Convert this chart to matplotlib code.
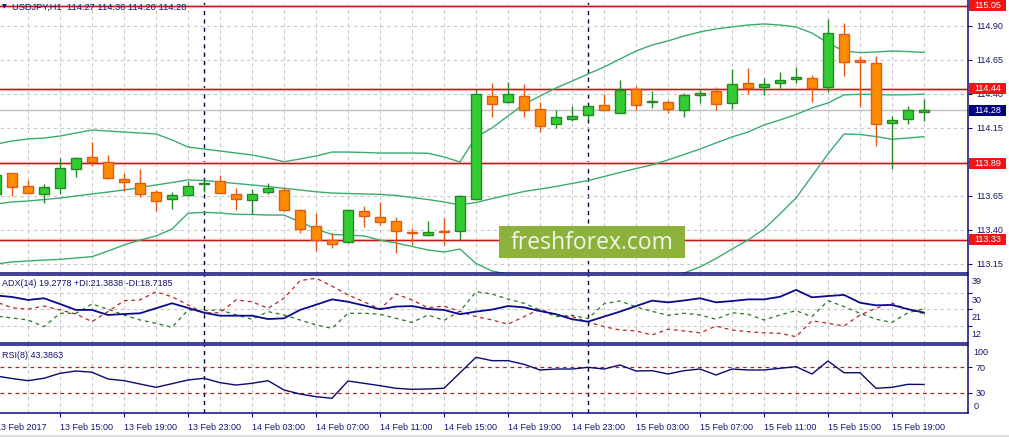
"""USDJPY H1 chart (MT4 style): candles + Bollinger bands, ADX(14) and RSI(8) panes."""
import numpy as np
import matplotlib
matplotlib.use("Agg")
import matplotlib.pyplot as plt
import matplotlib.transforms as mtrans
from matplotlib.patches import Rectangle
from matplotlib.lines import Line2D

plt.rcParams["font.family"] = ["Liberation Sans", "DejaVu Sans"]
plt.rcParams["axes.unicode_minus"] = False

# ---- data ----
open_ = [113.665, 113.817, 113.723, 113.662, 113.707, 113.846, 113.934, 113.902, 113.773, 113.743,
         113.679, 113.626, 113.659, 113.736, 113.758, 113.662, 113.623, 113.677, 113.692, 113.547,
         113.427, 113.324, 113.314, 113.540, 113.493, 113.466, 113.385, 113.361, 113.395, 113.390,
         113.626, 114.387, 114.339, 114.387, 114.287, 114.177, 114.214, 114.243, 114.317, 114.262,
         114.434, 114.341, 114.341, 114.282, 114.395, 114.422, 114.336, 114.478, 114.454, 114.478,
         114.508, 114.515, 114.454, 114.839, 114.650, 114.626, 114.184, 114.216, 114.27]
high = [113.820, 113.820, 113.768, 113.738, 113.927, 113.939, 114.049, 113.951, 113.821, 113.846,
        113.694, 113.679, 113.760, 113.773, 113.802, 113.707, 113.704, 113.743, 113.718, 113.554,
        113.523, 113.376, 113.554, 113.576, 113.608, 113.493, 113.412, 113.468, 113.486, 113.657,
        114.434, 114.483, 114.490, 114.473, 114.343, 114.282, 114.312, 114.310, 114.400, 114.503,
        114.459, 114.424, 114.356, 114.405, 114.429, 114.449, 114.584, 114.593, 114.515, 114.564,
        114.596, 114.540, 114.949, 114.924, 114.679, 114.679, 114.238, 114.312, 114.36]
low = [113.650, 113.652, 113.662, 113.601, 113.662, 113.787, 113.870, 113.773, 113.689, 113.645,
       113.542, 113.552, 113.655, 113.681, 113.670, 113.547, 113.517, 113.662, 113.542, 113.376,
       113.248, 113.265, 113.302, 113.424, 113.437, 113.233, 113.290, 113.356, 113.290, 113.326,
       113.620, 114.233, 114.335, 114.229, 114.123, 114.148, 114.201, 114.209, 114.280, 114.258,
       114.282, 114.295, 114.262, 114.229, 114.336, 114.282, 114.292, 114.398, 114.392, 114.446,
       114.483, 114.343, 114.417, 114.532, 114.306, 114.020, 113.846, 114.177, 114.20]
close = [113.804, 113.714, 113.674, 113.714, 113.854, 113.927, 113.898, 113.784, 113.755, 113.662,
         113.611, 113.655, 113.723, 113.748, 113.674, 113.630, 113.662, 113.707, 113.547, 113.409,
         113.326, 113.299, 113.547, 113.503, 113.456, 113.392, 113.376, 113.383, 113.383, 113.650,
         114.398, 114.324, 114.398, 114.280, 114.167, 114.229, 114.238, 114.309, 114.280, 114.429,
         114.321, 114.350, 114.287, 114.390, 114.405, 114.324, 114.471, 114.446, 114.471, 114.503,
         114.527, 114.446, 114.846, 114.637, 114.637, 114.177, 114.209, 114.282, 114.28]

bb_upper = [114.032, 114.054, 114.069, 114.076, 114.091, 114.113, 114.135, 114.128, 114.120, 114.113,
            114.106, 114.062, 114.010, 113.995, 113.981, 113.966, 113.951, 113.929, 113.902, 113.922,
            113.944, 113.973, 113.973, 113.970, 113.966, 113.966, 113.966, 113.964, 113.937, 113.900,
            114.084, 114.150, 114.238, 114.326, 114.385, 114.444, 114.495, 114.547, 114.598, 114.657,
            114.716, 114.760, 114.790, 114.826, 114.856, 114.878, 114.893, 114.907, 114.915, 114.907,
            114.893, 114.848, 114.775, 114.716, 114.704, 114.709, 114.716, 114.712, 114.706]
bb_mid = [113.591, 113.606, 113.613, 113.624, 113.635, 113.650, 113.665, 113.679, 113.694, 113.712,
          113.731, 113.749, 113.768, 113.764, 113.753, 113.742, 113.731, 113.720, 113.706, 113.694,
          113.681, 113.672, 113.668, 113.665, 113.662, 113.654, 113.639, 113.624, 113.606, 113.584,
          113.602, 113.631, 113.657, 113.683, 113.701, 113.720, 113.742, 113.764, 113.793, 113.823,
          113.852, 113.878, 113.915, 113.955, 113.995, 114.040, 114.084, 114.120, 114.172, 114.209,
          114.249, 114.297, 114.334, 114.393, 114.398, 114.396, 114.393, 114.395, 114.398]
bb_lower = [113.150, 113.165, 113.172, 113.179, 113.184, 113.194, 113.204, 113.245, 113.290, 113.326,
            113.356, 113.407, 113.523, 113.530, 113.525, 113.515, 113.514, 113.510, 113.510, 113.459,
            113.407, 113.367, 113.363, 113.356, 113.326, 113.304, 113.279, 113.253, 113.238, 113.260,
            113.154, 113.098, 113.076, 113.040, 113.017, 112.995, 112.988, 112.981, 112.988, 112.988,
            112.988, 112.995, 113.040, 113.084, 113.128, 113.190, 113.260, 113.326, 113.407, 113.518,
            113.635, 113.797, 113.959, 114.106, 114.102, 114.087, 114.067, 114.076, 114.086]

adx = [28.5, 27.7, 26.1, 27.0, 23.9, 20.7, 20.7, 18.0, 18.5, 18.9,
       21.6, 24.3, 21.8, 19.2, 17.6, 17.6, 17.6, 15.8, 16.2, 20.7,
       23.5, 26.4, 25.1, 23.1, 21.1, 22.5, 22.8, 21.2, 20.7, 18.4,
       19.8, 20.9, 22.8, 22.1, 20.1, 18.4, 15.7, 14.4, 17.1, 19.8,
       22.8, 25.7, 24.8, 25.8, 27.0, 24.8, 25.5, 26.4, 26.4, 27.8,
       31.5, 27.5, 28.2, 28.8, 24.6, 23.2, 23.4, 21.1, 19.28]
plus_di = [17.4, 16.4, 15.3, 11.7, 18.9, 18.9, 23.9, 21.1, 18.0, 15.3,
           13.5, 11.3, 20.7, 20.3, 20.7, 18.0, 15.7, 19.8, 18.0, 15.3,
           12.6, 10.8, 18.9, 18.9, 18.4, 16.2, 14.0, 18.0, 15.1, 20.1,
           30.5, 29.3, 26.6, 24.3, 20.7, 17.1, 17.8, 16.0, 24.0, 25.6,
           22.3, 20.0, 17.8, 18.9, 18.0, 15.7, 19.2, 18.4, 15.3, 18.0,
           20.3, 17.1, 25.7, 22.5, 18.9, 15.7, 14.0, 19.2, 21.38]
minus_di = [25.0, 21.9, 21.1, 22.8, 20.7, 18.5, 14.4, 19.8, 25.7, 26.1,
            30.5, 27.8, 23.4, 19.2, 19.2, 26.1, 25.1, 21.6, 27.0, 36.5,
            37.8, 33.6, 28.8, 25.1, 21.1, 29.3, 26.1, 21.9, 22.8, 19.9,
            17.1, 15.3, 13.0, 17.1, 21.1, 18.0, 17.1, 14.2, 11.7, 9.9,
            9.4, 7.2, 10.3, 9.4, 8.4, 12.0, 9.9, 9.0, 8.4, 8.1,
            6.3, 14.9, 13.5, 12.0, 18.0, 21.6, 24.3, 21.1, 18.72]
rsi = [56.7, 52.7, 49.3, 53.1, 60.9, 64.5, 62.5, 52.0, 49.3, 44.1,
       38.9, 44.6, 50.4, 53.1, 46.2, 42.5, 45.2, 49.3, 34.7, 28.4,
       24.2, 21.7, 48.8, 45.2, 41.5, 37.4, 35.8, 36.3, 37.4, 61.7,
       86.0, 80.7, 80.7, 75.0, 66.1, 67.6, 67.6, 70.3, 67.6, 73.9,
       64.5, 65.0, 59.8, 65.0, 67.6, 58.2, 67.6, 66.1, 66.1, 68.7,
       71.3, 59.8, 80.2, 61.8, 61.8, 37.4, 38.9, 43.6, 43.3863]

time_labels = ["13 Feb 2017", "13 Feb 15:00", "13 Feb 19:00", "13 Feb 23:00", "14 Feb 03:00",
               "14 Feb 07:00", "14 Feb 11:00", "14 Feb 15:00", "14 Feb 19:00", "14 Feb 23:00",
               "15 Feb 03:00", "15 Feb 07:00", "15 Feb 11:00", "15 Feb 15:00", "15 Feb 19:00"]
day_breaks = [13, 37]  # 14 Feb 00:00, 15 Feb 00:00
levels = [115.05, 114.44, 113.89, 113.33]
last_price = 114.28
price_ticks = [113.15, 113.40, 113.65, 113.90, 114.15, 114.40, 114.65, 114.90]
hidden_ticks = [113.90]  # covered by the 113.89 level tag on the terminal
adx_ticks = [12, 21, 30]
adx_labels = [39, 30, 21, 12]
rsi_levels = [30, 70]

NAVY = "#0a0a78"
GRID = "#c8c8c8"
TXT = "#14146e"
FS = 6.5

# ---- figure / panes (pixel layout of the terminal window) ----
W, H = 1009, 437
fig = plt.figure(figsize=(W / 100, H / 100), dpi=100)
fig.patch.set_facecolor("white")


def pane(top, bottom):
    return [0, 1 - bottom / H, 967.5 / W, (bottom - top) / H]


ax = fig.add_axes(pane(0, 272.7))
ax_adx = fig.add_axes(pane(274.7, 342.7), sharex=ax)
ax_rsi = fig.add_axes(pane(345.3, 413.3), sharex=ax)

idx = np.arange(len(close))
o, hi, lo, c = map(np.asarray, (open_, high, low, close))
up = c >= o

for a in (ax, ax_adx, ax_rsi):
    a.set_facecolor("white")
    for s in a.spines.values():
        s.set_color(NAVY)
        s.set_linewidth(1.1)
    a.spines["left"].set_visible(False)
    a.yaxis.tick_right()
    a.tick_params(axis="y", colors=NAVY, length=3, width=0.8, labelsize=FS,
                  labelcolor=TXT, pad=3)
    a.set_xticks(idx[::4])
    a.set_xticks(idx[2::4], minor=True)
    a.grid(True, axis="x", which="both", color=GRID, ls=(0, (3, 3)), lw=0.8)
    for d in day_breaks:
        a.axvline(d, color="#000033", ls=(0, (3, 3)), lw=1.0, zorder=1.5)
ax.spines["top"].set_visible(False)

ax.set_xlim(0.25, 60.72)

# ---- main pane ----
ax.set_ylim(113.086, 115.091)
ax.set_yticks(price_ticks)
ax.set_yticklabels(["" if v in hidden_ticks else f"{v:.2f}" for v in price_ticks])
ax.grid(True, axis="y", color=GRID, ls=(0, (3, 3)), lw=0.8)
ax.tick_params(axis="x", which="both", length=0, labelbottom=False)

ax.axhline(last_price, color="#c0c0c0", lw=1.0, zorder=1.6)
for lv in levels:
    ax.axhline(lv, color="#f8d4d4", lw=2.4, zorder=1.7)
    ax.axhline(lv, color="#c01818", lw=1.0, zorder=1.8)

for band in (bb_upper, bb_mid, bb_lower):
    ax.plot(idx, band, color="#3cab70", lw=1.0, zorder=2)

bull_edge, bear_edge = "#238a23", "#e25a16"
wick_col = np.where(up, bull_edge, bear_edge)
ax.vlines(idx, lo, hi, colors=wick_col, lw=1.0, zorder=3)
ax.bar(idx, np.abs(c - o), bottom=np.minimum(o, c), width=0.62,
       color=np.where(up, "#32cd32", "#ff8c00"), edgecolor=wick_col, linewidth=1.0, zorder=4)

# price tags on the right scale
tag_tr = mtrans.blended_transform_factory(fig.transFigure, ax.transData)
tag_h = 11.5 / 136.0
for lv, fc in [(v, "#ee1515") for v in levels] + [(last_price, "#000080")]:
    ax.add_patch(Rectangle((969 / W, lv - tag_h / 2), 37 / W, tag_h, transform=tag_tr,
                           fc=fc, ec="none", zorder=20, clip_on=False))
    ax.text(987.5 / W, lv, f"{lv:.2f}", transform=tag_tr, va="center", ha="center",
            fontsize=FS, color="white", zorder=21, clip_on=False)

# watermark
ax.add_patch(Rectangle((499 / W, 1 - 258 / H), 186 / W, 32 / H, transform=fig.transFigure,
                       fc="#8cb23c", ec="none", zorder=10, clip_on=False))
fig.text(592 / W, 1 - 242.5 / H, "freshforex.com", ha="center", va="center",
         fontsize=16.5, color="#f4f6ec", family=["Open Sans", "DejaVu Sans"], zorder=11)

fig.text(2 / W, 1 - 7 / H, "\u25bc", fontsize=4.5, color=NAVY, va="center",
         family=["DejaVu Sans"])
fig.text(12 / W, 1 - 7 / H, "USDJPY,H1  114.27 114.36 114.20 114.28", fontsize=6.7,
         color=TXT, va="center")

# ---- ADX pane ----
ax_adx.set_ylim(3.05, 39.7)
ax_adx.set_yticks(adx_ticks)
ax_adx.set_yticklabels([])
ax_adx.grid(True, axis="y", color=GRID, ls=(0, (3, 3)), lw=0.8)
ax_adx.tick_params(axis="x", which="both", length=0, labelbottom=False)
ax_adx.plot(idx, plus_di, color="#1f7a1f", lw=0.9, ls=(0, (3, 3)), zorder=3)
ax_adx.plot(idx, minus_di, color="#c02020", lw=0.9, ls=(0, (3, 3)), zorder=3)
ax_adx.plot(idx, adx, color="#0a0a8c", lw=1.3, zorder=4)
atr = ax_adx.get_yaxis_transform()
for v in adx_labels:
    ax_adx.annotate(str(v), xy=(1, v), xycoords=atr, xytext=(4, -8 if v < 39 else -6),
                    textcoords="offset pixels", va="center", ha="left", fontsize=FS,
                    color=TXT, annotation_clip=False)
fig.text(2 / W, 1 - 284 / H, "ADX(14) 19.2778 +DI:21.3838 -DI:18.7185", fontsize=FS,
         color=TXT, va="center")

# ---- RSI pane ----
ax_rsi.set_ylim(-1.84, 104.8)
ax_rsi.set_yticks(rsi_levels)
ax_rsi.set_yticklabels([str(v) for v in rsi_levels])
for lv in rsi_levels:
    ax_rsi.axhline(lv, color="#b82020", lw=0.9, ls=(0, (3, 3)), zorder=2)
ax_rsi.plot(idx, rsi, color="#0a0a6e", lw=1.0, zorder=3)
rtr = ax_rsi.get_yaxis_transform()
ax_rsi.text(1.006, 94, "100", transform=rtr, va="center", ha="left", fontsize=FS,
            color=TXT, clip_on=False)
ax_rsi.text(1.006, 8.5, "0", transform=rtr, va="center", ha="left", fontsize=FS,
            color=TXT, clip_on=False)
fig.text(2 / W, 1 - 355 / H, "RSI(8) 43.3863", fontsize=FS, color=TXT, va="center")

ax_rsi.set_xticklabels(time_labels)
ax_rsi.tick_params(axis="x", which="major", length=3, color=NAVY, labelsize=FS,
                   labelcolor=TXT, pad=4)
ax_rsi.tick_params(axis="x", which="minor", length=0)
for lbl in ax_rsi.get_xticklabels():
    lbl.set_ha("left")
# the first bar sits left of the visible area, so its date label is placed by hand
ax_rsi.annotate(time_labels[0], xy=(idx[0], 0), xycoords=ax_rsi.get_xaxis_transform(),
                xytext=(0, -7), textcoords="offset points", va="top", ha="left",
                fontsize=FS, color=TXT, annotation_clip=False)

fig.add_artist(Line2D([0, 1], [1 - 435.5 / H] * 2, color="#dcdcdc", lw=2))

fig.savefig("out.png", dpi=100, facecolor="white")
